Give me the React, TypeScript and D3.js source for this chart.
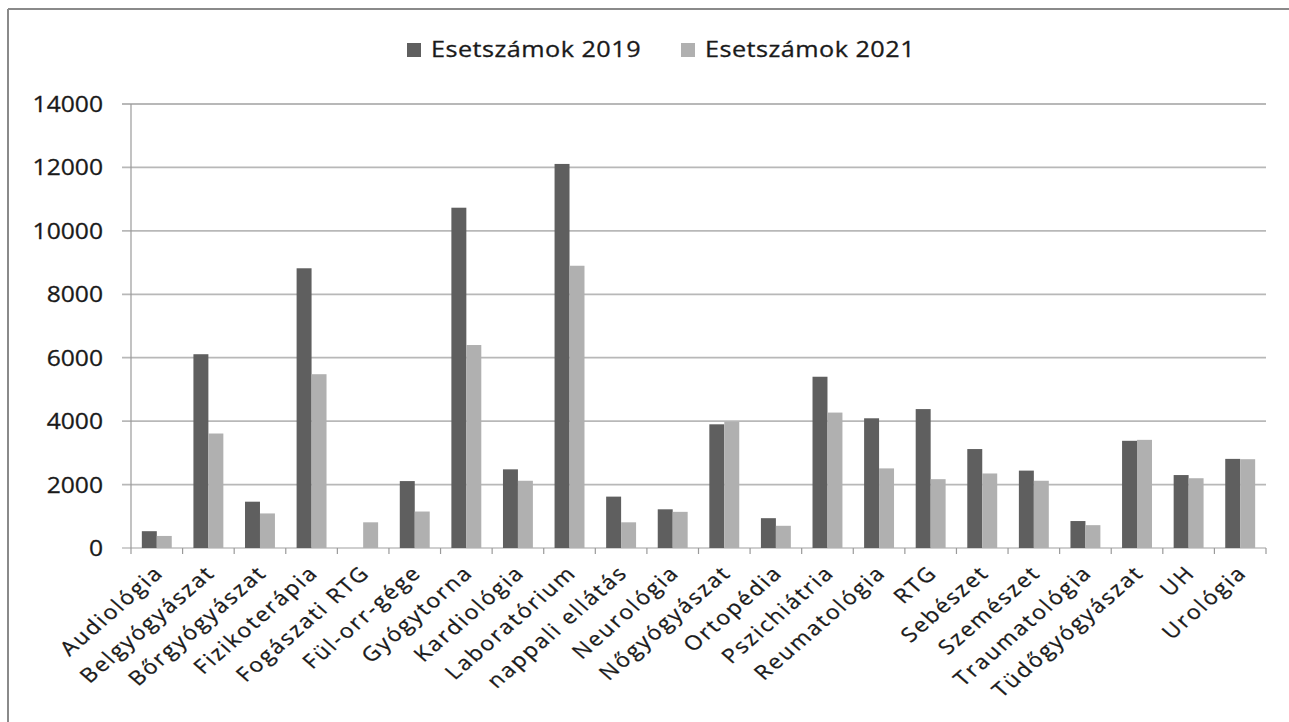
import React from "react";
import * as d3 from "d3";

const categories = [
  "Audiológia", "Belgyógyászat", "Bőrgyógyászat", "Fizikoterápia", "Fogászati RTG",
  "Fül-orr-gége", "Gyógytorna", "Kardiológia", "Laboratórium", "nappali ellátás",
  "Neurológia", "Nőgyógyászat", "Ortopédia", "Pszichiátria", "Reumatológia",
  "RTG", "Sebészet", "Szemészet", "Traumatológia", "Tüdőgyógyászat", "UH", "Urológia",
];
const values2019 = [530, 6110, 1460, 8820, 0, 2110, 10730, 2480, 12110, 1620, 1220, 3900, 940, 5400, 4090, 4380, 3120, 2440, 850, 3380, 2300, 2810];
const values2021 = [380, 3610, 1090, 5480, 810, 1150, 6400, 2120, 8900, 810, 1140, 3980, 700, 4270, 2510, 2170, 2350, 2120, 720, 3410, 2200, 2800];
const seriesNames = ["Esetszámok 2019", "Esetszámok 2021"];
const yTicks = [0, 2000, 4000, 6000, 8000, 10000, 12000, 14000];

const W = 1289, H = 722;
const left = 131, right = 1266, top = 104, bottom = 548;
const colors = ["#5f5f5f", "#b0b0b0"];
const FONT = "'Open Sans', 'DejaVu Sans', sans-serif";
const TEXT = "#1a1a1a";

export default function App() {
  const x = d3.scaleBand<string>().domain(categories).range([left, right]).paddingInner(0).paddingOuter(0);
  const y = d3.scaleLinear().domain([0, 14000]).range([bottom, top]);
  const bw = x.bandwidth();
  const barW = bw * 0.29;
  const sub = d3.scaleBand<number>().domain([0, 1]).range([bw / 2 - barW, bw / 2 + barW]);
  const series = [values2019, values2021];
  const boundaries = categories.map((c) => x(c)!).concat([right]);

  return (
    <svg width={W} height={H} style={{ position: "absolute", left: 0, top: 0, background: "#fff" }}>
      <rect x={0} y={0} width={W} height={H} fill="#fff" />
      {/* frame */}
      <line x1={8} y1={9} x2={W} y2={9} stroke="#8a8a8a" strokeWidth={2} />
      <line x1={8} y1={9} x2={8} y2={H} stroke="#8a8a8a" strokeWidth={2} />

      {/* legend */}
      {seriesNames.map((n, i) => {
        const lx = i === 0 ? 407 : 681;
        return (
          <g key={n}>
            <rect x={lx} y={43} width={14} height={14} fill={colors[i]} />
            <g transform={`translate(${lx + 24},57) scale(1.2,1)`}>
              <text x={0} y={0} fontFamily={FONT} fontSize={21} letterSpacing={0.4} fill={TEXT} stroke={TEXT} strokeWidth={0.3}>{n}</text>
            </g>
          </g>
        );
      })}

      {/* gridlines */}
      {yTicks.map((t) => (
        <line key={t} x1={122} x2={right} y1={y(t)} y2={y(t)} stroke={t === 0 ? "#a0a0a0" : "#b8b8b8"} strokeWidth={t === 0 ? 1.2 : 1.8} />
      ))}
      {/* y axis */}
      <line x1={left} x2={left} y1={top} y2={bottom} stroke="#9a9a9a" strokeWidth={1.2} />
      {yTicks.map((t) => (
        <g key={"l" + t} transform={`translate(103,${y(t) + 8}) scale(1.12,1)`}>
          <text x={0} y={0} textAnchor="end" fontFamily={FONT} fontSize={22} fill={TEXT} stroke={TEXT} strokeWidth={0.3}>{t}</text>
        </g>
      ))}

      {/* bars */}
      {series.map((vals, si) =>
        categories.map((c, ci) => (
          <rect key={si + "-" + ci} x={x(c)! + sub(si)!} y={y(vals[ci])} width={sub.bandwidth()} height={bottom - y(vals[ci])} fill={colors[si]} />
        ))
      )}

      {/* x ticks */}
      {boundaries.map((b, i) => (
        <line key={"t" + i} x1={b} x2={b} y1={bottom} y2={bottom + 6} stroke="#9a9a9a" strokeWidth={1.2} />
      ))}
      {/* x labels */}
      {categories.map((c) => {
        const cx = x(c)! + bw / 2 + 8;
        const cy = 574;
        return (
          <g key={"x" + c} transform={`translate(${cx},${cy}) scale(1.15,1) rotate(-45)`}>
            <text x={0} y={0} textAnchor="end" fontFamily={FONT} fontSize={20} letterSpacing={1.9} fill={TEXT} stroke={TEXT} strokeWidth={0.3}>{c}</text>
          </g>
        );
      })}
    </svg>
  );
}
